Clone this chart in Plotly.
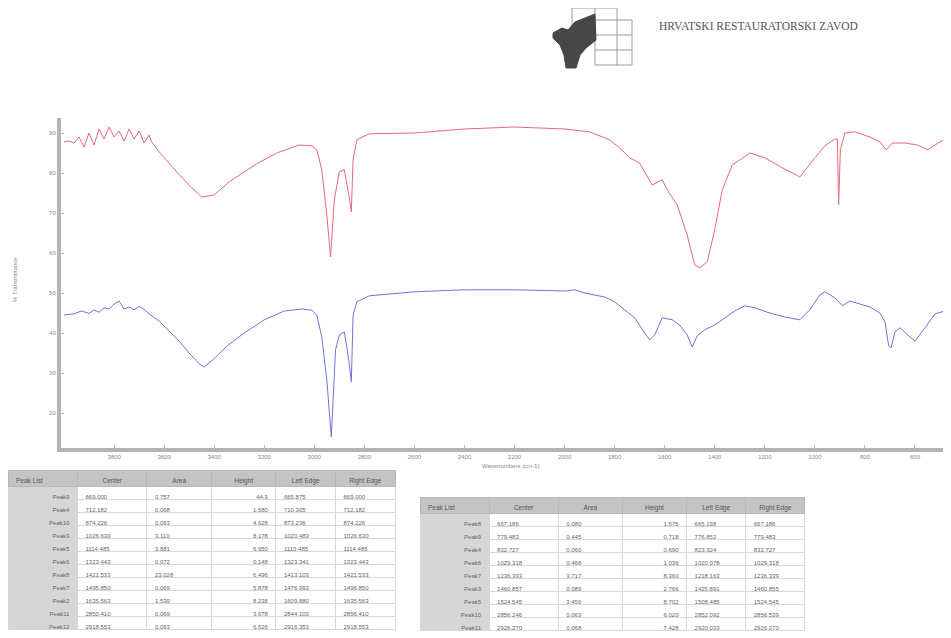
import plotly.graph_objects as go

# FTIR spectra (wavenumber cm-1, %T)
red_wn = [4000, 3980, 3960, 3940, 3920, 3900, 3880, 3860, 3840, 3820, 3800, 3780, 3760, 3740,
          3720, 3700, 3680, 3660, 3650, 3620, 3550, 3490, 3450, 3400, 3340, 3230, 3150, 3060,
          3010, 2990, 2970, 2950, 2935, 2920, 2900, 2880, 2862, 2852, 2845, 2830, 2780, 2600,
          2400, 2200, 2000, 1900, 1820, 1780, 1740, 1700, 1680, 1650, 1610, 1590, 1550, 1510,
          1480, 1460, 1430, 1400, 1370, 1330, 1260, 1200, 1130, 1060, 1000, 960, 920, 910,
          905, 898, 880, 840, 780, 740, 715, 690, 640, 590, 550, 500, 460]
red_t = [87.8, 88.0, 87.5, 89.0, 86.5, 90.0, 87.0, 91.0, 88.5, 91.5, 89.0, 90.5, 88.0, 91.0,
         88.5, 90.5, 87.5, 89.5, 87.8, 85.3, 80.3, 76.3, 74.0, 74.5, 77.8, 82.3, 85.0, 87.0,
         86.8, 85.8, 80.8, 69.5, 59.0, 73.3, 80.3, 80.8, 74.5, 70.3, 83.3, 88.3, 89.8, 90.0,
         91.0, 91.5, 91.0, 90.3, 88.3, 86.3, 83.8, 82.5, 80.3, 77.0, 78.3, 75.8, 72.0, 64.5,
         57.0, 56.3, 57.8, 65.8, 75.8, 82.0, 85.0, 83.8, 81.3, 79.0, 83.8, 86.8, 88.5, 88.5,
         72.0, 85.8, 90.0, 90.3, 89.0, 87.8, 85.8, 87.5, 87.5, 87.0, 85.8, 87.8, 89.0]

blue_wn = [4000, 3960, 3930, 3900, 3880, 3860, 3840, 3820, 3800, 3780, 3760, 3740, 3720, 3700,
           3680, 3660, 3620, 3580, 3540, 3500, 3460, 3440, 3400, 3350, 3280, 3200, 3120, 3050,
           3010, 2990, 2970, 2950, 2932, 2915, 2900, 2880, 2862, 2852, 2845, 2830, 2780, 2600,
           2400, 2200, 2000, 1960, 1920, 1840, 1800, 1760, 1720, 1680, 1660, 1640, 1610, 1570,
           1540, 1510, 1490, 1470, 1440, 1400, 1360, 1320, 1280, 1240, 1180, 1120, 1060, 1020,
           980, 960, 920, 890, 860, 820, 780, 740, 720, 705, 695, 680, 660, 620, 600, 560,
           520, 480, 460]
blue_t = [44.5, 44.8, 45.5, 44.9, 45.8, 45.2, 46.3, 46.0, 47.2, 48.0, 46.0, 46.5, 45.8, 46.6,
          46.0, 44.8, 43.0, 40.5, 38.0, 35.0, 32.3, 31.5, 33.6, 36.7, 40.0, 43.3, 45.5, 46.0,
          45.7, 44.5, 39.0, 28.3, 14.0, 35.8, 39.5, 40.3, 33.3, 27.8, 44.5, 47.8, 49.3, 50.3,
          50.8, 50.8, 50.5, 50.8, 50.0, 49.0, 47.8, 45.8, 43.8, 40.0, 38.3, 39.5, 43.8, 43.3,
          42.0, 39.5, 36.5, 39.3, 40.8, 42.0, 43.8, 45.5, 46.8, 46.3, 45.0, 44.0, 43.3, 45.8,
          49.5, 50.3, 48.8, 46.8, 48.0, 47.3, 46.5, 45.0, 42.8, 36.8, 36.3, 40.3, 41.3, 39.0,
          38.0, 41.3, 44.8, 45.5, 45.8]

x_ticks = [3800, 3600, 3400, 3200, 3000, 2800, 2600, 2400, 2200, 2000, 1800, 1600, 1400,
           1200, 1000, 800, 600]
y_ticks = [20, 30, 40, 50, 60, 70, 80, 90]

# peak tables
table_header = ["Peak List", "Center", "Area", "Height", "Left Edge", "Right Edge"]
left_peaks = ["Peak9", "Peak4", "Peak10", "Peak3", "Peak5", "Peak6", "Peak8", "Peak7",
              "Peak2", "Peak11", "Peak12"]
left_center = ["669.000", "712.182", "874.226", "1026.630", "1114.485", "1323.443",
               "1421.533", "1495.850", "1635.563", "2850.410", "2918.553"]
left_area = ["0.757", "0.068", "0.063", "3.110", "3.881", "0.072", "23.028", "0.069",
             "1.530", "0.069", "0.063"]
left_height = ["44.9", "1.580", "4.628", "8.178", "6.950", "0.148", "6.496", "5.878",
               "8.238", "3.678", "6.626"]
left_ledge = ["665.875", "710.305", "873.236", "1020.483", "1110.485", "1323.341",
              "1413.103", "1476.993", "1609.880", "2844.103", "2916.353"]
left_redge = ["669.000", "712.182", "874.226", "1026.630", "1114.485", "1323.443",
              "1421.533", "1496.850", "1635.563", "2856.410", "2918.553"]

right_peaks = ["Peak8", "Peak9", "Peak4", "Peak6", "Peak7", "Peak3", "Peak5", "Peak10",
               "Peak11"]
right_center = ["667.186", "779.483", "832.727", "1029.318", "1236.393", "1460.857",
                "1524.545", "2856.246", "2926.270"]
right_area = ["0.080", "0.445", "0.060", "0.468", "3.717", "0.089", "3.456", "0.063",
              "0.068"]
right_height = ["1.575", "0.718", "0.690", "1.036", "8.360", "2.766", "8.702", "6.020",
                "7.428"]
right_ledge = ["665.198", "776.852", "823.324", "1020.078", "1218.163", "1425.891",
               "1508.485", "2852.092", "2920.033"]
right_redge = ["667.186", "779.483", "832.727", "1029.318", "1236.339", "1460.855",
               "1524.545", "2856.539", "2926.270"]

W, H = 951, 638
OFF = 8  # page body margin shifts the figure by this much


def px(x):
    return min(max((x - OFF) / W, 0), 1)


def py(y):
    return min(max(1 - (y - OFF) / H, 0), 1)


fig = go.Figure()

fig.add_trace(go.Scatter(x=red_wn, y=red_t, mode="lines", name="sample 1",
                         line=dict(color="#e46a7c", width=1)))
fig.add_trace(go.Scatter(x=blue_wn, y=blue_t, mode="lines", name="sample 2",
                         line=dict(color="#7373d6", width=1)))

grey_fill = "#d6d6d6"
cell_line = "#d8d8d8"
tfont = dict(family="Liberation Sans, Arial", size=6, color="#666")


def peak_table(rows, center, area, height, ledge, redge, x0, x1, y0, y1):
    n = len(rows)
    return go.Table(
        domain=dict(x=[px(x0), px(x1)], y=[py(y1), py(y0)]),
        columnwidth=[70, 70, 65, 65, 60, 60],
        header=dict(values=table_header, fill_color="#c4c4c4",
                    line_color="#b8b8b8", height=16,
                    align=["left", "center", "center", "center", "center", "center"],
                    font=dict(family="Liberation Sans, Arial", size=6.5, color="#555")),
        cells=dict(values=[rows, center, area, height, ledge, redge],
                   fill_color=[[grey_fill] * n] + [["white"] * n] * 5,
                   line_color=cell_line, height=13,
                   align=["right", "left", "left", "right", "left", "left"],
                   font=tfont),
    )


fig.add_trace(peak_table(left_peaks, left_center, left_area, left_height, left_ledge,
                         left_redge, 8, 395, 470, 646))
fig.add_trace(peak_table(right_peaks, right_center, right_area, right_height, right_ledge,
                         right_redge, 420, 805, 497, 646))

axis_font = dict(family="Liberation Sans, Arial", size=6, color="#888")

fig.update_xaxes(
    domain=[px(61), px(951)], range=[4012, 456], tickvals=x_ticks,
    showline=True, linecolor="#b4b4b4", linewidth=4, mirror=False,
    ticks="inside", ticklen=3, tickcolor="#b4b4b4", tickfont=axis_font,
    showgrid=False, zeroline=False,
)
fig.update_yaxes(
    domain=[py(448), py(118)], range=[11.25, 93.75], tickvals=y_ticks,
    showline=True, linecolor="#b4b4b4", linewidth=4,
    ticks="inside", ticklen=3, tickcolor="#b4b4b4", tickfont=axis_font,
    showgrid=False, zeroline=False,
)

# logo: grid and dark emblem
shapes = []
grid_lines = [
    (572, 8, 572, 50), (595, 8, 595, 65), (617, 8, 617, 65), (632, 20, 632, 65),
    (572, 8, 617, 8), (595, 20, 632, 20), (572, 35, 632, 35), (595, 50, 632, 50),
    (595, 65, 632, 65),
]
for x0, y0, x1, y1 in grid_lines:
    shapes.append(dict(type="line", xref="paper", yref="paper",
                       x0=px(x0), y0=py(y0), x1=px(x1), y1=py(y1),
                       line=dict(color="#9a9a9a", width=1)))
emblem = [(553, 33), (562, 28), (568, 30), (575, 22), (595, 14), (596, 40), (586, 48),
          (580, 55), (576, 68), (566, 68), (564, 55), (560, 45), (553, 38)]
path = "M " + " L ".join(f"{px(a):.4f},{py(b):.4f}" for a, b in emblem) + " Z"
shapes.append(dict(type="path", xref="paper", yref="paper", path=path,
                   fillcolor="#474747", line=dict(color="#474747", width=1)))

fig.update_layout(
    width=W, height=H,
    margin=dict(l=0, r=0, t=0, b=0),
    paper_bgcolor="white", plot_bgcolor="white",
    showlegend=False,
    shapes=shapes,
    annotations=[
        dict(text="HRVATSKI RESTAURATORSKI ZAVOD", xref="paper", yref="paper",
             x=px(657), y=py(26), xanchor="left", yanchor="middle", showarrow=False,
             font=dict(family="Liberation Serif, Times New Roman", size=11.5, color="#555")),
        dict(text="% Transmittance", xref="paper", yref="paper", x=px(15), y=py(280),
             textangle=-90, showarrow=False, xanchor="center", yanchor="middle",
             font=dict(family="Liberation Sans, Arial", size=6, color="#888")),
        dict(text="Wavenumbers (cm-1)", xref="paper", yref="paper", x=px(510), y=py(466),
             showarrow=False, xanchor="center", yanchor="middle",
             font=dict(family="Liberation Sans, Arial", size=6, color="#888")),
    ],
)

fig.write_html("out.html")
